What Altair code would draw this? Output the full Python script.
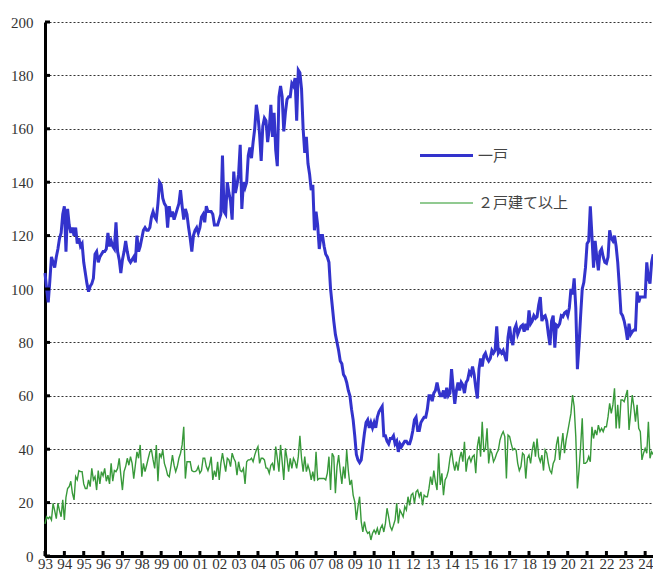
import altair as alt
import pandas as pd

series_names = ["一戸", "２戸建て以上"]
series_colors = ["#3333cc", "#38993a"]
start_year = 1993
year_ticks = list(range(1993, 2025))
y_ticks = list(range(0, 201, 20))

# monthly values, Jan 1993 .. Jun 2024
one_unit = [
    106, 100, 95, 103, 112, 110, 108, 112, 115, 119, 121, 128,      # 1993
    131, 114, 130, 124, 121, 123, 120, 123, 117, 119, 116, 117,     # 1994
    110, 106, 102, 99, 101, 102, 104, 113, 114, 110, 112, 113,      # 1995
    114, 114, 115, 121, 116, 118, 116, 115, 125, 114, 111, 106,     # 1996
    111, 114, 118, 114, 111, 110, 111, 112, 110, 120, 114, 116,     # 1997
    119, 122, 123, 122, 122, 123, 127, 129, 127, 126, 132, 140,     # 1998
    139, 134, 132, 131, 123, 131, 127, 129, 126, 128, 130, 132,     # 1999
    137, 131, 126, 130, 128, 123, 119, 114, 120, 122, 123, 121,     # 2000
    123, 127, 128, 125, 131, 129, 129, 129, 128, 124, 124, 124,     # 2001
    126, 128, 150, 129, 128, 140, 136, 133, 126, 144, 136, 139,     # 2002
    143, 154, 130, 140, 138, 140, 150, 153, 149, 155, 160, 169,     # 2003
    165, 158, 148, 161, 164, 163, 155, 160, 169, 157, 166, 152,     # 2004
    146, 172, 176, 172, 159, 166, 171, 172, 172, 177, 176, 179,     # 2005
    163, 182, 181, 175, 160, 151, 157, 147, 143, 137, 139, 122,     # 2006
    129, 124, 115, 120, 120, 116, 113, 112, 110, 100, 94, 88,       # 2007
    83, 80, 77, 73, 72, 68, 67, 65, 62, 60, 55, 51,                 # 2008
    45, 38, 36, 35, 36, 41, 46, 50, 51, 48, 50, 48,                 # 2009
    50, 48, 52, 54, 55, 56, 45, 45, 43, 42, 44, 44,                 # 2010
    45, 42, 43, 39, 42, 41, 42, 43, 43, 42, 42, 44,                 # 2011
    47, 51, 52, 47, 47, 50, 51, 52, 52, 55, 60, 60,                 # 2012
    58, 61, 62, 65, 62, 60, 60, 62, 59, 63, 60, 61,                 # 2013
    70, 63, 57, 62, 65, 62, 65, 64, 61, 65, 66, 69,                 # 2014
    68, 71, 68, 63, 59, 70, 74, 71, 75, 76, 74, 73,                 # 2015
    74, 77, 76, 77, 86, 76, 77, 76, 77, 75, 73, 82,                 # 2016
    86, 81, 79, 85, 86.5, 83, 84.6, 86, 86.5, 84, 87, 84.6,         # 2017
    92, 87, 88, 90, 89, 89.6, 94, 97, 88, 89.6, 90, 88,             # 2018
    83, 79, 88, 90, 78, 86.5, 86, 87, 90, 89.6, 91, 91.5,           # 2019
    90, 93, 100, 98, 104, 93, 70, 79, 90, 100, 102.5, 108,          # 2020
    117, 118, 131, 120, 108, 118, 112, 107, 114, 115, 112, 110,     # 2021
    109.6, 112, 122, 119, 118, 120, 116, 110, 101, 91, 90, 88,      # 2022
    85, 81, 87, 83, 84, 84.6, 84.6, 99, 95, 97, 97, 97,             # 2023
    97, 110, 104, 102, 110, 113,                                    # 2024
]

multi_unit = [
    12, 14.7, 14, 14.7, 13.5, 19.7, 17, 14, 19.7, 17, 14.7, 21,             # 1993
    13.5, 22, 25.3, 26, 28, 23.5, 21, 29.7, 28.5, 32, 31.6, 31.6,           # 1994
    27, 25.3, 25.3, 28.5, 26, 32.8, 28.5, 29.7, 24.7, 32, 27, 31.6,         # 1995
    30, 32.8, 28, 30.3, 27, 34.7, 28, 32, 31.6, 32.8, 36.6, 30.3,           # 1996
    24.7, 31.6, 33.5, 36.6, 34, 37.2, 34.7, 29, 34, 39, 36.6, 41.6,         # 1997
    29.7, 34.7, 31.6, 34, 36.6, 39, 39.7, 36, 32.8, 41.6, 28, 38.5,         # 1998
    37, 39.7, 34.7, 32.8, 30.3, 29.7, 33.5, 37.8, 34, 31.6, 33.5, 36.6,     # 1999
    38.5, 41.6, 48.4, 29, 35.3, 35.3, 35.3, 32, 31.6, 31.6, 32, 33.5,       # 2000
    31, 32, 36.6, 36.6, 33.5, 32, 34, 37.2, 28.5, 32, 29.7, 35.3,           # 2001
    28.5, 34.7, 38.5, 35, 31.6, 36.6, 36, 33.5, 38.5, 36.6, 35.3, 30.3,     # 2002
    35.3, 32, 31.6, 32.8, 27, 35.3, 36, 36, 36.6, 35.3, 37.8, 39.7,         # 2003
    41, 34.7, 36.6, 36.6, 36, 33, 32.8, 31, 34, 34.7, 32, 41,               # 2004
    36.6, 31.6, 41.6, 35.3, 28.5, 40.3, 36.6, 31.6, 36.6, 32.8, 36.6, 35.3, # 2005
    32.8, 37.2, 45, 36.6, 31.6, 37.2, 31.6, 34, 32, 28.5, 31.6, 28,         # 2006
    39, 28.5, 29, 29, 29, 29, 28.5, 31, 37.2, 24.7, 38.5, 37.2,             # 2007
    23.5, 33.5, 37.8, 32, 27, 33.5, 29, 39.7, 32, 26.6, 28.5, 22.8,         # 2008
    20.3, 13.5, 18.5, 22.2, 12.9, 9, 12.9, 9.7, 8.5, 9, 6, 8.5,             # 2009
    9.7, 8.5, 10.4, 7.9, 10.4, 11.6, 9, 12.2, 17.9, 14.7, 11, 9.7,          # 2010
    11.5, 13.5, 19.7, 12.2, 17.2, 16, 14.7, 18.5, 17.2, 22.2, 19, 22.8,     # 2011
    23.5, 19.7, 24, 24.7, 22.2, 24, 19, 22.8, 22.2, 22.2, 25.3, 29.7,       # 2012
    26.6, 32, 27.8, 24.7, 38.5, 26.6, 31, 22.8, 28.5, 29.7, 32, 36.6,       # 2013
    39.7, 35, 32, 35.3, 32, 36.6, 39, 35.3, 42.8, 31.6, 36, 37.2,           # 2014
    35.3, 37.2, 37.8, 31, 41, 44.7, 37.2, 50.3, 39, 40.3, 47.8, 34.7,       # 2015
    39.7, 38.5, 35.3, 36.6, 38.5, 39.7, 43.4, 45.3, 46.6, 44.7, 29, 45.3,   # 2016
    44.7, 42, 39.7, 40.3, 39.7, 34.7, 32, 33.5, 38.5, 37.8, 29, 36.6,       # 2017
    37.8, 34.7, 39.7, 42.8, 37.2, 44, 37.2, 35.3, 37.8, 32, 39.7, 38.5,     # 2018
    34.7, 32, 31, 34.7, 36, 41.6, 44.7, 36, 41, 46, 38.5, 43.4,             # 2019
    46.6, 50, 53.4, 60.3, 56, 44.7, 25.3, 32, 41, 51.6, 34.7, 34.7,         # 2020
    35.3, 37.2, 35.3, 48.4, 44, 47.2, 45.3, 49, 46.6, 47.8, 46.6, 48.4,     # 2021
    48.4, 52.2, 57.2, 53.4, 56.6, 62.8, 47.8, 56.6, 47.8, 58.4, 58.4, 57.8, # 2022
    60, 62.2, 47.2, 53.4, 60.3, 56, 50.3, 56.6, 47.8, 46.6, 36, 38.5,       # 2023
    40.3, 38.5, 50.3, 36.6, 39, 38,                                         # 2024
]


def frame(values, name):
    return pd.DataFrame({
        "t": [start_year + i / 12 for i in range(len(values))],
        "value": values,
        "series": name,
    })


W, H = 608, 534
serif = "Liberation Serif"
cjk = "Noto Sans CJK JP"

x_scale = alt.Scale(domain=[1993, 1993 + W / 19.36], nice=False, zero=False)
y_scale = alt.Scale(domain=[0, 200], nice=False)

x_axis = alt.Axis(
    values=year_ticks,
    labelExpr="datum.value % 100 < 10 ? '0' + (datum.value % 100) : '' + (datum.value % 100)",
    grid=False, ticks=False, tickSize=0, domainWidth=3, domainColor="black",
    labelFont=serif, labelFontSize=15, labelColor="#333", labelPadding=0,
    labelFlush=False, labelOverlap=False, labelBound=False, title=None,
)
y_axis = alt.Axis(
    values=y_ticks, grid=True, gridDash=[2, 2], gridColor="#333", gridWidth=1,
    ticks=False, tickSize=0, domainWidth=3, domainColor="black",
    labelFont=serif, labelFontSize=15, labelColor="#333", labelPadding=12,
    title=None,
)

green = alt.Chart(frame(multi_unit, series_names[1])).mark_line(
    color=series_colors[1], strokeWidth=1.4
).encode(
    x=alt.X("t:Q", scale=x_scale, axis=x_axis),
    y=alt.Y("value:Q", scale=y_scale, axis=y_axis),
)

blue = alt.Chart(frame(one_unit, series_names[0])).mark_line(
    color=series_colors[0], strokeWidth=3
).encode(
    x=alt.X("t:Q", scale=x_scale, axis=x_axis),
    y=alt.Y("value:Q", scale=y_scale, axis=y_axis),
)

xticks = alt.Chart(pd.DataFrame({"t": year_ticks})).mark_rule(
    color="black", strokeWidth=3
).encode(
    x=alt.X("t:Q", scale=x_scale, axis=x_axis),
    y=alt.value(H),
    y2=alt.value(H - 5),
)

yticks = alt.Chart(pd.DataFrame({"value": y_ticks})).mark_rule(
    color="black", strokeWidth=3
).encode(
    y=alt.Y("value:Q", scale=y_scale, axis=y_axis),
    x=alt.value(0),
    x2=alt.value(5),
)

legend_layers = []
legend_y = [133.5, 181]
legend_w = [3, 1.6]
legend_c = ["#3333cc", "#6db86d"]
for i, name in enumerate(series_names):
    d = pd.DataFrame({"name": [name]})
    legend_layers.append(
        alt.Chart(d).mark_rule(color=legend_c[i], strokeWidth=legend_w[i]).encode(
            x=alt.value(375), x2=alt.value(428), y=alt.value(legend_y[i])
        )
    )
    legend_layers.append(
        alt.Chart(d).mark_text(
            align="left", baseline="middle", font=cjk, fontSize=15, color="#444"
        ).encode(
            x=alt.value(433), y=alt.value(legend_y[i]), text="name:N"
        )
    )

chart = alt.layer(green, blue, xticks, yticks, *legend_layers).properties(
    width=W,
    height=H,
    padding={"left": 37, "top": 14, "right": 0, "bottom": 15},
    autosize=alt.AutoSizeParams(type="none"),
    background="white",
).configure_view(stroke=None)

chart.save("out.html", embed_options={"renderer": "svg", "actions": False})
